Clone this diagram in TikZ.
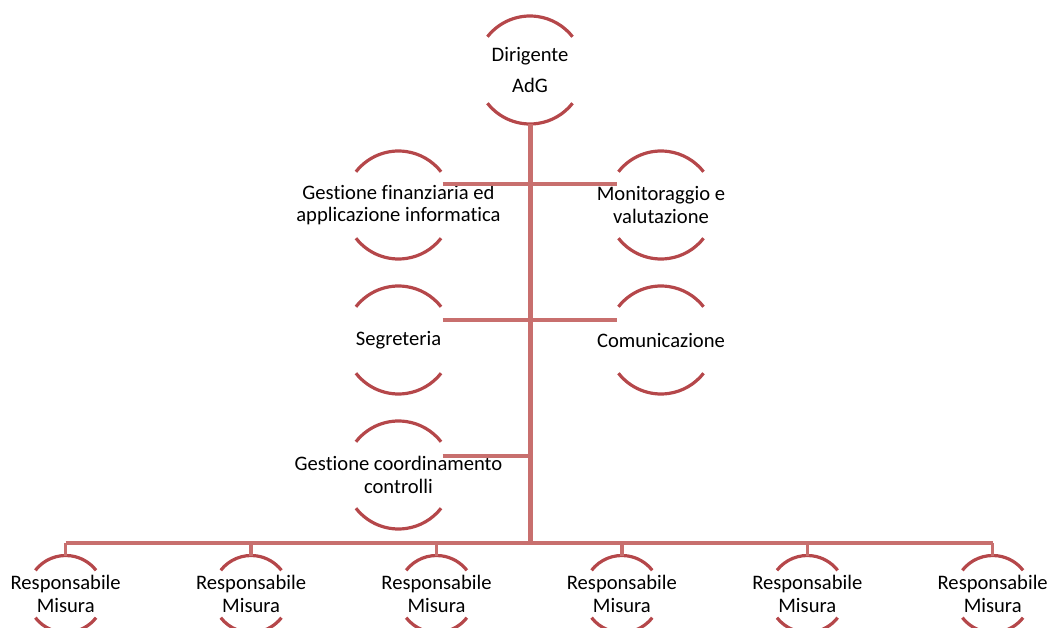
\documentclass[tikz,border=0pt]{standalone}
\usepackage{fontspec}
\setmainfont{Carlito}[Ligatures={NoCommon}]
\usepackage{xcolor}
\usepackage{tikz}
\definecolor{arcred}{HTML}{B5474A}
\definecolor{linkred}{HTML}{C86F6E}
\newcommand{\ringarcs}[2]{%
  \draw[ring] (#1.center) ++(142:#2) arc[start angle=142,end angle=38,radius=#2];
  \draw[ring] (#1.center) ++(218:#2) arc[start angle=218,end angle=322,radius=#2];}

\begin{document}
\begin{tikzpicture}[x=1pt,y=-1pt,
    lbl/.style={align=center,inner sep=0pt,font=\fontsize{20.6}{22.5}\selectfont},
    ring/.style={draw=arcred,line width=3.2pt},
    link/.style={draw=linkred,line width=3.3pt},
    trunk/.style={draw=linkred,line width=5pt}]
    \useasboundingbox (0,0) rectangle (1050,628);
    \clip (0,0) rectangle (1050,628);
        \node[lbl] (dir) at (530,70) {Dirigente\\[8pt]AdG};
        \node[lbl] (fin) at (398.5,205) {Gestione finanziaria ed\\applicazione informatica};
        \node[lbl] (mon) at (661,205) {Monitoraggio e\\valutazione};
        \node[lbl] (seg) at (398.5,340) {Segreteria};
        \node[lbl] (com) at (661,340) {Comunicazione};
        \node[lbl] (coord) at (398.5,475) {Gestione coordinamento\\controlli};
        \foreach \i in {1,...,6}
            \node[lbl] (resp\i) at ({65.7+185.4*(\i-1)},594) {Responsabile\\Misura};
        \coordinate (bus) at (530,543);
        \foreach \n in {dir,fin,mon,seg,com,coord} {\ringarcs{\n}{54pt}}
        \foreach \i in {1,...,6} {\ringarcs{resp\i}{38.5pt}}
        \draw[link] ([shift={(44pt,21pt)}]fin.center) -- ([shift={(-44pt,21pt)}]mon.center);
        \draw[link] ([shift={(44pt,20pt)}]seg.center) -- ([shift={(-44pt,20pt)}]com.center);
        \draw[link] ([shift={(44pt,19pt)}]coord.center) coordinate (cc) -- (cc -| bus);
        \draw[link] (resp1.center |- bus) -- (resp6.center |- bus);
        \foreach \i in {1,...,6}
            \draw[link] (resp\i.center |- bus) -- ([yshift=38.5pt]resp\i.center);
        \draw[trunk] ([yshift=-54pt]dir.center) -- ([yshift=-1.6pt]bus);
\end{tikzpicture}
\end{document}
